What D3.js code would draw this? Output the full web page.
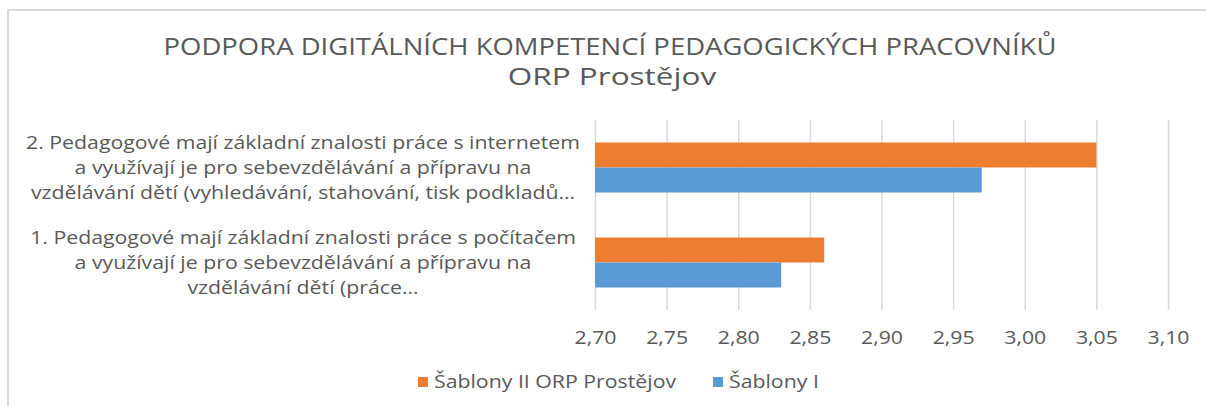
<!DOCTYPE html>
<html>
<head>
<meta charset="utf-8">
<script src="https://cdn.jsdelivr.net/npm/d3@7"></script>
<style>
  body { margin: 0; background: #fff; }
  svg { display: block; font-family: "Open Sans", sans-serif; }
</style>
</head>
<body>
<div id="chart"></div>
<script>
// Chart data
const titleLines = ['PODPORA DIGITÁLNÍCH KOMPETENCÍ PEDAGOGICKÝCH PRACOVNÍKŮ', 'ORP Prostějov'];
const categories = ['cat2', 'cat1'];
const categoryLines = [
    ['2. Pedagogové mají základní znalosti práce s internetem',
     'a využívají je pro sebevzdělávání a přípravu na',
     'vzdělávání dětí (vyhledávání, stahování, tisk podkladů…'],
    ['1. Pedagogové mají základní znalosti práce s počítačem',
     'a využívají je pro sebevzdělávání a přípravu na',
     'vzdělávání dětí (práce…']
];
const seriesNames = ['Šablony II ORP Prostějov', 'Šablony I'];
const valuesSablonyII = [3.05, 2.86];
const valuesSablonyI = [2.97, 2.83];
const tickValues = [2.70, 2.75, 2.80, 2.85, 2.90, 2.95, 3.00, 3.05, 3.10];

const COLORS = { orange: '#ED7D31', blue: '#5B9BD5', text: '#595959', grid: '#D9D9D9' };

const width = 1206, height = 406;
const plot = { left: 595, right: 1168, top: 120, bottom: 310 };

// the source picture is stretched sideways, so widen text to match
function stretch(sel, k) {
    sel.each(function () {
        const len = this.getComputedTextLength();
        d3.select(this)
            .attr('textLength', len * k)
            .attr('lengthAdjust', 'spacingAndGlyphs');
    });
}

const svg = d3.select('#chart').append('svg')
    .attr('width', width)
    .attr('height', height);

// Chart area border (cut off at right and bottom in the original)
svg.append('rect')
    .attr('x', 8).attr('y', 10)
    .attr('width', 1400).attr('height', 600)
    .attr('fill', 'none')
    .attr('stroke', COLORS.grid)
    .attr('stroke-width', 2);

// Title
const titleText = svg.append('g').selectAll('text').data(titleLines).join('text')
    .attr('x', (d, i) => i === 0 ? 610 : 612)
    .attr('y', (d, i) => 47 + i * 30)
    .attr('dy', '0.35em')
    .attr('text-anchor', 'middle')
    .attr('fill', COLORS.text)
    .style('font-size', '23.5px')
    .text(d => d);
stretch(titleText.filter((d, i) => i === 0), 1.168);
stretch(titleText.filter((d, i) => i === 1), 1.34);

const x = d3.scaleLinear().domain([2.7, 3.1]).range([plot.left, plot.right]);
const y = d3.scaleBand().domain(categories).range([plot.top, plot.bottom]).padding(0);
const ySeries = d3.scaleBand().domain(seriesNames).range([0, y.bandwidth()])
    .paddingInner(0).paddingOuter(0.9);
const color = d3.scaleOrdinal().domain(seriesNames).range([COLORS.orange, COLORS.blue]);

const locale = d3.formatLocale({ decimal: ',', thousands: ' ', grouping: [3], currency: ['', ' Kč'] });
const fmt = locale.format('.2f');

// Axis + gridlines
const xAxisG = svg.append('g')
    .attr('class', 'axis x-axis')
    .attr('transform', `translate(0,${plot.bottom})`)
    .call(d3.axisBottom(x).tickValues(tickValues).tickFormat(fmt)
        .tickSize(-(plot.bottom - plot.top)).tickPadding(21));
xAxisG.select('.domain').remove();
xAxisG.selectAll('.tick line').attr('stroke', COLORS.grid).attr('stroke-width', 1.5);
const tickText = xAxisG.selectAll('.tick text')
    .attr('fill', COLORS.text)
    .style('font-size', '18.5px')
    .style('font-family', '"Open Sans", sans-serif');
stretch(tickText, 1.15);

// Bars
const rows = categories.map((c, i) => ({
    category: c,
    values: [
        { series: seriesNames[0], value: valuesSablonyII[i] },
        { series: seriesNames[1], value: valuesSablonyI[i] }
    ]
}));

const groups = svg.append('g').selectAll('g').data(rows).join('g')
    .attr('transform', d => `translate(0,${y(d.category)})`);

groups.selectAll('rect').data(d => d.values).join('rect')
    .attr('x', x(2.7))
    .attr('y', d => ySeries(d.series))
    .attr('width', d => x(d.value) - x(2.7))
    .attr('height', ySeries.bandwidth())
    .attr('fill', d => color(d.series));

// Category labels
const labelG = svg.append('g').selectAll('g').data(categories).join('g')
    .attr('transform', d => `translate(303,${y(d) + y.bandwidth() / 2})`);

const labelText = labelG.selectAll('text').data((d, i) => categoryLines[i]).join('text')
    .attr('x', 0)
    .attr('y', (d, i) => (i - 1) * 25)
    .attr('dy', '0.35em')
    .attr('text-anchor', 'middle')
    .attr('fill', COLORS.text)
    .style('font-size', '18.5px')
    .text(d => d);
stretch(labelText, 1.15);

// Legend
const legendPos = [418, 713];
const legend = svg.append('g').attr('class', 'legend').selectAll('g').data(seriesNames).join('g')
    .attr('transform', (d, i) => `translate(${legendPos[i]},382)`);

legend.append('rect')
    .attr('x', 0).attr('y', -5)
    .attr('width', 10).attr('height', 10)
    .attr('fill', d => color(d));

const legendText = legend.append('text')
    .attr('x', 16)
    .attr('dy', '0.35em')
    .attr('fill', COLORS.text)
    .style('font-size', '18.5px')
    .text(d => d);
stretch(legendText, 1.15);
</script>
</body>
</html>
